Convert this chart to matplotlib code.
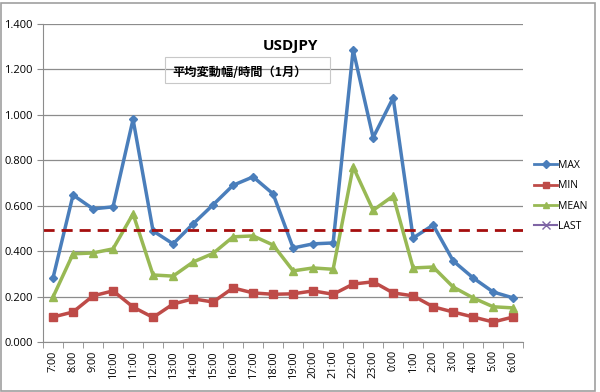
import matplotlib.pyplot as plt
import numpy as np
from matplotlib.lines import Line2D
from matplotlib.patches import Rectangle
from matplotlib.ticker import FormatStrFormatter, FixedLocator

hours = ["7:00", "8:00", "9:00", "10:00", "11:00", "12:00", "13:00", "14:00",
         "15:00", "16:00", "17:00", "18:00", "19:00", "20:00", "21:00", "22:00",
         "23:00", "0:00", "1:00", "2:00", "3:00", "4:00", "5:00", "6:00"]
max_vals = [0.282, 0.647, 0.586, 0.595, 0.980, 0.489, 0.432, 0.520, 0.604, 0.690,
            0.727, 0.652, 0.414, 0.432, 0.436, 1.286, 0.900, 1.075, 0.458, 0.515,
            0.357, 0.282, 0.220, 0.194]
min_vals = [0.110, 0.132, 0.203, 0.225, 0.154, 0.108, 0.167, 0.190, 0.176, 0.238,
            0.216, 0.210, 0.212, 0.225, 0.210, 0.255, 0.265, 0.216, 0.203, 0.155,
            0.132, 0.110, 0.088, 0.110]
mean_vals = [0.198, 0.388, 0.392, 0.410, 0.564, 0.295, 0.290, 0.352, 0.390, 0.463,
             0.467, 0.427, 0.313, 0.326, 0.320, 0.771, 0.580, 0.643, 0.326, 0.330,
             0.242, 0.194, 0.155, 0.150]
last_val = 0.495

plt.rcParams["font.family"] = ["Open Sans", "Noto Sans CJK JP", "DejaVu Sans"]

fig = plt.figure(figsize=(6, 3.92), dpi=100)
ax = fig.add_axes([0.0717, 0.1276, 0.8003, 0.8112])

x = np.arange(len(hours))
ax.plot(x, max_vals, color="#4A7EBB", lw=2.5, marker="D", ms=4, label="MAX")
ax.plot(x, min_vals, color="#BE4B48", lw=2.5, marker="s", ms=5.5, label="MIN")
ax.plot(x, mean_vals, color="#98B954", lw=2.5, marker="^", ms=5.5, label="MEAN")
ax.axhline(last_val, color="#A50E0E", lw=2, ls=(0, (4, 2.5)))

ax.set_xlim(-0.5, len(hours) - 0.5)
ax.set_ylim(0, 1.4)
ax.set_yticks(np.arange(0, 1.41, 0.2))
ax.yaxis.set_major_formatter(FormatStrFormatter("%.3f"))
ax.grid(axis="y", color="#8c8c8c", lw=0.9)
ax.set_axisbelow(True)

ax.set_xticks(x)
ax.set_xticklabels(hours, rotation=90, fontsize=7.8)
ax.tick_params(axis="x", length=0, pad=6)
ax.xaxis.set_minor_locator(FixedLocator(np.arange(-0.5, len(hours), 1)))
ax.tick_params(axis="x", which="minor", length=4, color="#8c8c8c")
ax.tick_params(axis="y", labelsize=8, length=4, color="#8c8c8c")

for s in ["top", "right"]:
    ax.spines[s].set_visible(False)
for s in ["left", "bottom"]:
    ax.spines[s].set_color("#8c8c8c")

ax.text(0.515, 0.93, "USDJPY", transform=ax.transAxes, ha="center", va="center",
        fontsize=11, fontweight="bold")
fig.text(0.4, 0.815, "平均変動幅/時間（1月）", ha="center", va="center",
         fontsize=8.8, fontweight="bold", family=["Noto Sans CJK JP", "DejaVu Sans"])
fig.patches.append(Rectangle((0.275, 0.788), 0.275, 0.066, transform=fig.transFigure,
                             fill=False, edgecolor="#c8c8c8", lw=0.8))

handles = [
    Line2D([], [], color="#4A7EBB", lw=2, marker="D", ms=4),
    Line2D([], [], color="#BE4B48", lw=2, marker="s", ms=5),
    Line2D([], [], color="#98B954", lw=2, marker="^", ms=5),
    Line2D([], [], color="#7F65A5", lw=1.5, marker="x", ms=6),
]
fig.legend(handles, ["MAX", "MIN", "MEAN", "LAST"], loc="center left",
           bbox_to_anchor=(0.875, 0.5), frameon=False, fontsize=7.5,
           handlelength=2.2, handletextpad=0.1, labelspacing=0.9)

fig.patches.append(Rectangle((0.002, 0.003), 0.99, 0.99, transform=fig.transFigure,
                             fill=False, edgecolor="#a0a0a0", lw=1.2))

fig.savefig("out.png", dpi=100)
